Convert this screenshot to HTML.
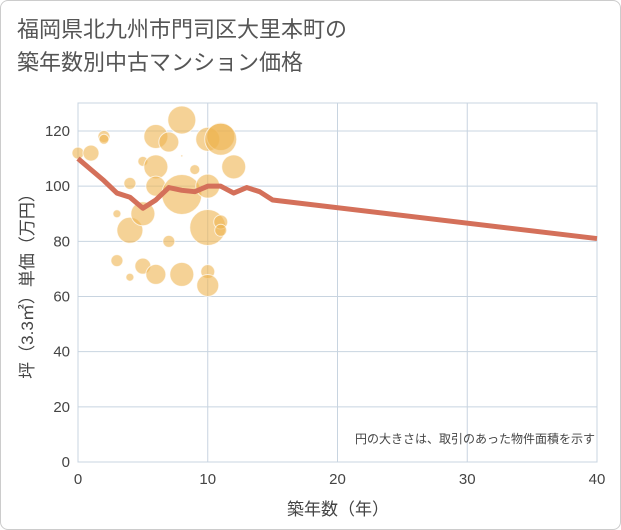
<!DOCTYPE html>
<html><head><meta charset="utf-8"><style>
body{margin:0;background:#fff;}
.wrap{width:619px;height:528px;border:1px solid #ccc;border-radius:8px;position:relative;overflow:hidden;font-family:"Liberation Sans","Noto Sans CJK JP",sans-serif;}
.title{position:absolute;left:16px;top:12px;font-size:22px;line-height:33px;color:#555;}
</style></head><body>
<div class="wrap">
<div class="title">福岡県北九州市門司区大里本町の<br>築年数別中古マンション価格</div>
<svg id="c" width="621" height="530" style="position:absolute;left:-1px;top:-1px"></svg>
</div>
<script>
const xTicks=[0,10,20,30,40];
const yTicks=[0,20,40,60,80,100,120];
const bubX=[0,1,2,2,3,3,4,4,4,5,5,5,6,6,6,6,7,7,8,8,8,8,9,10,10,10,10,10,11,11,11,11,12];
const bubY=[112,112,118,117,73,90,101,84,67,109,90,71,118,107,100,68,116,80,124,111,97,68,106,117,100,85,69,64,118,117,87,84,107];
const bubR=[6,8,6,5,6,4,6,13,4,5,12,8,12,12,10,10,10,6,14,1,20,12,5,12,12,18,7,11,14,16,7,6,12];
const lineX=[0,1,2,3,4,5,6,7,8,9,10,11,12,13,14,15,40];
const lineY=[110,106,102,97.5,96,92,95,99.5,98.5,98,100,100,97.5,99.5,98,95,81];
const svg=document.getElementById('c');const NS='http://www.w3.org/2000/svg';
const X0=78,X1=597,Y0=462,Y1=103;
const sx=v=>X0+(X1-X0)*v/40, sy=v=>Y0-(Y0-131)*v/120;
function el(t,a,p){const e=document.createElementNS(NS,t);for(const k in a)e.setAttribute(k,a[k]);(p||svg).appendChild(e);return e;}
const g=el('g',{});


xTicks.forEach(v=>{const l=el('line',{x1:sx(v),x2:sx(v),y1:Y1,y2:Y0,stroke:'#c8d4e0','stroke-width':1},g);

const t=el('text',{x:sx(v),y:484,'text-anchor':'middle','font-size':15,fill:'#444'});t.textContent=v;
});
yTicks.forEach(v=>{const l=el('line',{x1:X0,x2:X1,y1:sy(v),y2:sy(v),stroke:'#c8d4e0','stroke-width':1},g);

const t=el('text',{x:70,y:sy(v)+5,'text-anchor':'end','font-size':15,fill:'#444'});t.textContent=v;
});
const fr=el('rect',{x:X0,y:Y1,width:X1-X0,height:Y0-Y1,fill:'none',stroke:'#c8d4e0'});

bubX.forEach((v,i)=>{const c=el('circle',{cx:sx(v),cy:sy(bubY[i]),r:bubR[i],fill:'rgba(238,180,80,0.6)',stroke:'rgba(255,255,255,0.7)','stroke-width':1});
});
const p=el('polyline',{points:lineX.map((v,i)=>sx(v)+','+sy(lineY[i])).join(' '),fill:'none',stroke:'#d4705a','stroke-width':5,'stroke-linejoin':'round'});

const xt=el('text',{x:338,y:515,'text-anchor':'middle','font-size':17,fill:'#444'});xt.textContent='築年数（年）';

const yt=el('text',{transform:'translate(33,282) rotate(-90)','text-anchor':'middle','font-size':17,fill:'#444'});yt.textContent='坪（3.3㎡）単価（万円）';

const n=el('text',{x:595,y:443,'text-anchor':'end','font-size':12,fill:'#444'});n.textContent='円の大きさは、取引のあった物件面積を示す';

</script>
</body></html>
